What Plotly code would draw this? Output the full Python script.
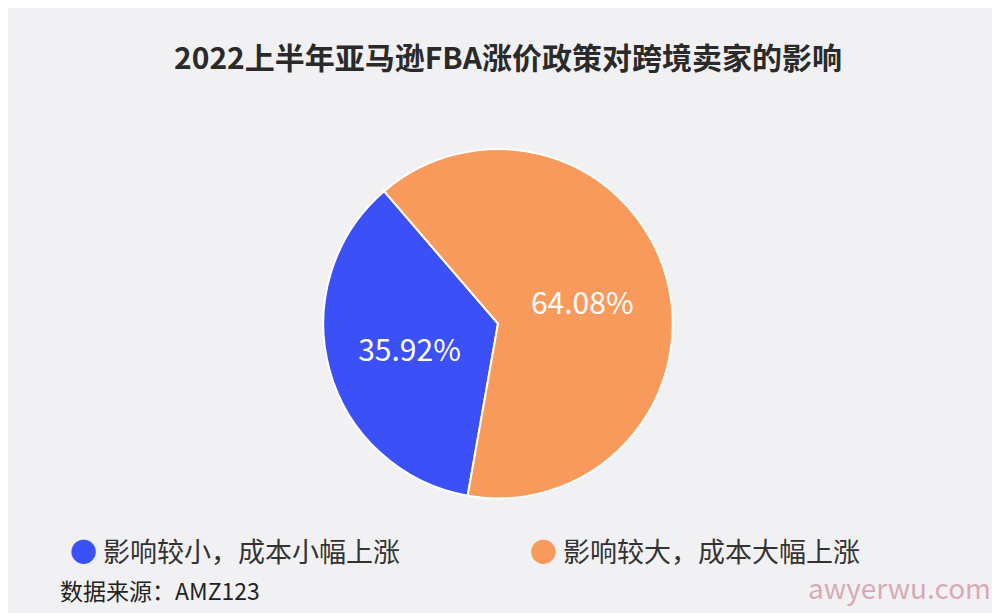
import plotly.graph_objects as go

labels = ["影响较小，成本小幅上涨", "影响较大，成本大幅上涨"]
values = [35.92, 64.08]
colors = ["#3b50f6", "#f89a5b"]

fig = go.Figure(go.Pie(
    labels=labels, values=values, sort=False, direction="clockwise", rotation=190,
    marker=dict(colors=colors, line=dict(color="white", width=2)),
    texttemplate="%{value:.2f}%", textposition="inside", insidetextorientation="horizontal",
    textfont=dict(color="white", size=30, family="Noto Sans CJK SC"),
    domain=dict(x=[0.29, 0.69], y=[0.2, 0.77]), showlegend=False,
))
ann = []
for i, (lab, c) in enumerate(zip(labels, colors)):
    ann.append(dict(text=f"<span style='color:{c}'>●</span> {lab}", x=[0.06, 0.52][i], y=0.115,
                    xref="paper", yref="paper", xanchor="left", yanchor="middle", showarrow=False,
                    font=dict(size=27, color="#333")))
ann += [
    dict(text="数据来源：AMZ123", x=0.05, y=0.05, xref="paper", yref="paper",
         xanchor="left", yanchor="middle", showarrow=False, font=dict(size=23, color="#222")),
    dict(text="awyerwu.com", x=0.985, y=0.055, xref="paper", yref="paper",
         xanchor="right", yanchor="middle", showarrow=False,
         font=dict(size=28, color="rgba(200,120,140,0.6)")),
]
fig.update_layout(
    width=1000, height=613, paper_bgcolor="#f1f1f3", plot_bgcolor="#f1f1f3",
    margin=dict(l=0, r=0, t=0, b=0),
    font=dict(family="Noto Sans CJK SC", color="#222"),
    title=dict(text="<b>2022上半年亚马逊FBA涨价政策对跨境卖家的影响</b>", x=0.5, y=0.935,
               xanchor="center", font=dict(size=30, color="#2a2a2a")),
    annotations=ann,
)
fig.write_html("out.html")
